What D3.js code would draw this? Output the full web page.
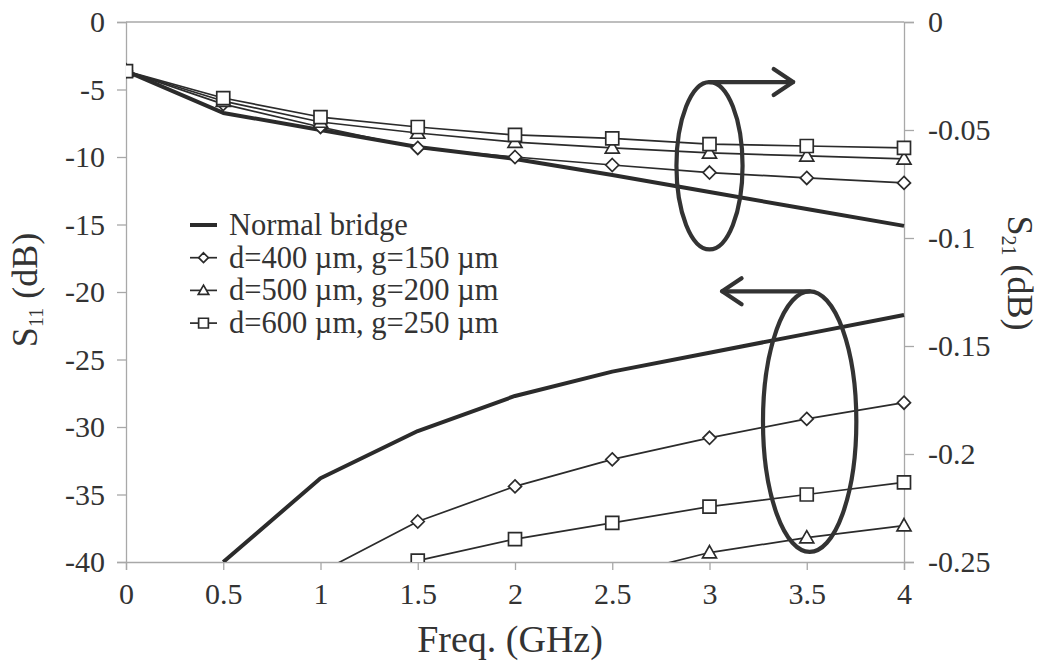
<!DOCTYPE html>
<html>
<head>
<meta charset="utf-8">
<script src="https://cdn.jsdelivr.net/npm/d3@7"></script>
<style>
  html, body { margin: 0; padding: 0; background: #fff; }
  svg { display: block; }
  text { font-family: "Liberation Serif", "Times New Roman", serif; fill: #333; }
</style>
</head>
<body>
<svg id="chart" width="1047" height="664"></svg>
<script>
// ---- Data ----
const freqs = [0, 0.5, 1, 1.5, 2, 2.5, 3, 3.5, 4];
const xTicks = [0, 0.5, 1, 1.5, 2, 2.5, 3, 3.5, 4];
const leftTicks = [0, -5, -10, -15, -20, -25, -30, -35, -40];
const rightTicks = [0, -0.05, -0.1, -0.15, -0.2, -0.25];

// S21 (right axis, dB)
const s21Normal = [-0.0227, -0.0421, -0.0500, -0.0579, -0.0634, -0.0708, -0.0787, -0.0866, -0.0944];
const s21D400   = [-0.0227, -0.0380, -0.0486, -0.0583, -0.0625, -0.0662, -0.0697, -0.0722, -0.0745];
const s21D500   = [-0.0227, -0.0366, -0.0463, -0.0514, -0.0556, -0.0583, -0.0606, -0.0620, -0.0634];
const s21D600   = [-0.0227, -0.0352, -0.0440, -0.0486, -0.0523, -0.0539, -0.0565, -0.0574, -0.0583];

// S11 (left axis, dB); null = not shown
const s11Normal = [null, -40.0, -33.8, -30.3, -27.7, -25.9, -24.5, -23.1, -21.7];
const s11D400   = [null, null, -40.75, -37.0, -34.4, -32.4, -30.8, -29.4, -28.2];
const s11D500   = [null, null, null, null, null, -41.1, -39.3, -38.2, -37.3];
const s11D600   = [null, null, null, -39.9, -38.3, -37.1, -35.9, -35.0, -34.1];

const seriesNames = ["Normal bridge", "d=400 \u00b5m, g=150 \u00b5m", "d=500 \u00b5m, g=200 \u00b5m", "d=600 \u00b5m, g=250 \u00b5m"];
const seriesMarkers = ["none", "diamond", "triangle", "square"];

// ---- Layout ----
const svg = d3.select("#chart");
const M = { left: 126, right: 904, top: 22, bottom: 562 };
const x = d3.scaleLinear().domain([0, 4]).range([M.left, M.right]);
const yL = d3.scaleLinear().domain([-40, 0]).range([M.bottom, M.top]);
const yR = d3.scaleLinear().domain([-0.25, 0]).range([M.bottom, M.top]);

const ink = "#2b2b2b";
const axisGray = "#a8a8a8";

// clip
svg.append("defs").append("clipPath").attr("id", "plotclip")
  .append("rect").attr("x", M.left).attr("y", M.top - 10)
  .attr("width", M.right - M.left + 10).attr("height", M.bottom - M.top + 10);

// plot border (top line)
svg.append("line").attr("x1", x(0)).attr("x2", x(4)).attr("y1", yL(0)).attr("y2", yL(0))
  .attr("stroke", axisGray).attr("stroke-width", 1.3);

// Axes
const gL = svg.append("g").attr("transform", `translate(${M.left},0)`)
  .call(d3.axisLeft(yL).tickValues(leftTicks).tickSize(9).tickPadding(12).tickFormat(d => String(d)));
const gR = svg.append("g").attr("transform", `translate(${M.right},0)`)
  .call(d3.axisRight(yR).tickValues(rightTicks).tickSize(10).tickPadding(14).tickFormat(d => String(+d.toFixed(2))));
const gX = svg.append("g").attr("transform", `translate(0,${M.bottom})`)
  .call(d3.axisBottom(x).tickValues(xTicks).tickSize(8).tickPadding(14).tickFormat(d => String(d)));

[gL, gR, gX].forEach(g => {
  g.select(".domain").attr("stroke", axisGray).attr("stroke-width", 1.3);
  g.selectAll(".tick line").attr("stroke", axisGray).attr("stroke-width", 1.3);
  g.selectAll(".tick text").attr("font-family", "Liberation Serif, Times New Roman, serif")
    .attr("font-size", 30).attr("fill", "#333");
});
gX.selectAll(".tick text").attr("dy", "0.68em");

// Lines
const plot = svg.append("g").attr("clip-path", "url(#plotclip)");
function drawSeries(vals, yScale, marker, thick) {
  const pts = freqs.map((f, i) => ({ f, v: vals[i] })).filter(p => p.v !== null);
  const line = d3.line().x(p => x(p.f)).y(p => yScale(p.v));
  plot.append("path").datum(pts).attr("d", line).attr("fill", "none")
    .attr("stroke", ink).attr("stroke-width", thick ? 4 : 1.7).attr("stroke-linejoin", "round");
  if (marker !== "none") {
    const vis = pts.filter(p => p.v >= yScale.domain()[0] - 1e-9);
    drawMarkers(plot, vis.map(p => [x(p.f), yScale(p.v)]), marker, 1);
  }
}
function markerPath(type, s) {
  if (type === "diamond") { const r = 6.5 * s; return `M0,${-r}L${r},0L0,${r}L${-r},0Z`; }
  if (type === "square") { const r = 6.5 * s; return `M${-r},${-r}H${r}V${r}H${-r}Z`; }
  if (type === "triangle") { const r = 7 * s; return `M0,${-r}L${r},${r * 0.75}L${-r},${r * 0.75}Z`; }
  return "";
}
function drawMarkers(g, coords, type, s) {
  g.selectAll(null).data(coords).enter().append("path")
    .attr("transform", c => `translate(${c[0]},${c[1]})`)
    .attr("d", markerPath(type, s))
    .attr("fill", "#fff").attr("stroke", ink).attr("stroke-width", 1.7);
}

// S11 series
drawSeries(s11Normal, yL, "none", true);
drawSeries(s11D400, yL, "diamond", false);
drawSeries(s11D600, yL, "square", false);
drawSeries(s11D500, yL, "triangle", false);
// S21 series
drawSeries(s21Normal, yR, "none", true);
drawSeries(s21D400, yR, "diamond", false);
drawSeries(s21D500, yR, "triangle", false);
drawSeries(s21D600, yR, "square", false);

// Annotation ellipses + arrows (in data coordinates)
const ann = svg.append("g").attr("fill", "none").attr("stroke", "#333").attr("stroke-width", 4.2)
  .attr("stroke-linecap", "round").attr("stroke-linejoin", "round");
// upper (S21 -> right axis)
const e1 = { cx: 3.0, cy: -10.65, rx: 0.17, ry: 6.2 };
ann.append("ellipse").attr("cx", x(e1.cx)).attr("cy", yL(e1.cy))
  .attr("rx", x(e1.rx) - x(0)).attr("ry", yL(0) - yL(e1.ry));
const a1y = yL(e1.cy + e1.ry);
ann.append("path").attr("d", `M${x(e1.cx)},${a1y}H${x(3.43)}`);
ann.append("path").attr("d", `M${x(3.33)},${a1y - 13}L${x(3.43)},${a1y}L${x(3.33)},${a1y + 13}`);
// lower (S11 -> left axis)
const e2 = { cx: 3.515, cy: -29.6, rx: 0.24, ry: 9.65 };
ann.append("ellipse").attr("cx", x(e2.cx)).attr("cy", yL(e2.cy))
  .attr("rx", x(e2.rx) - x(0)).attr("ry", yL(0) - yL(e2.ry));
const a2y = yL(e2.cy + e2.ry);
ann.append("path").attr("d", `M${x(e2.cx)},${a2y}H${x(3.065)}`);
ann.append("path").attr("d", `M${x(3.165)},${a2y - 13}L${x(3.065)},${a2y}L${x(3.165)},${a2y + 13}`);

// Legend
const lg = svg.append("g").attr("transform", "translate(190,225)");
seriesNames.forEach((name, i) => {
  const row = lg.append("g").attr("transform", `translate(0,${i * 32.7})`);
  row.append("line").attr("x1", 0).attr("x2", 27).attr("y1", 0).attr("y2", 0)
    .attr("stroke", ink).attr("stroke-width", i === 0 ? 4 : 1.7);
  if (seriesMarkers[i] !== "none") drawMarkers(row, [[13.5, 0]], seriesMarkers[i], 0.75);
  row.append("text").attr("x", 39).attr("y", 10).attr("font-size", 30.5).text(name);
});

// Axis titles
const tL = svg.append("text").attr("transform", `translate(37,290) rotate(-90)`)
  .attr("text-anchor", "middle").attr("font-size", 36);
tL.append("tspan").text("S");
tL.append("tspan").attr("font-size", 20).attr("dy", 6).text("11");
tL.append("tspan").attr("dy", -6).text(" (dB)");

const tR = svg.append("text").attr("transform", `translate(1008,273) rotate(90)`)
  .attr("text-anchor", "middle").attr("font-size", 36);
tR.append("tspan").text("S");
tR.append("tspan").attr("font-size", 20).attr("dy", 6).text("21");
tR.append("tspan").attr("dy", -6).text(" (dB)");

svg.append("text").attr("x", 510).attr("y", 652)
  .attr("text-anchor", "middle").attr("font-size", 38).text("Freq. (GHz)");
</script>
</body>
</html>
